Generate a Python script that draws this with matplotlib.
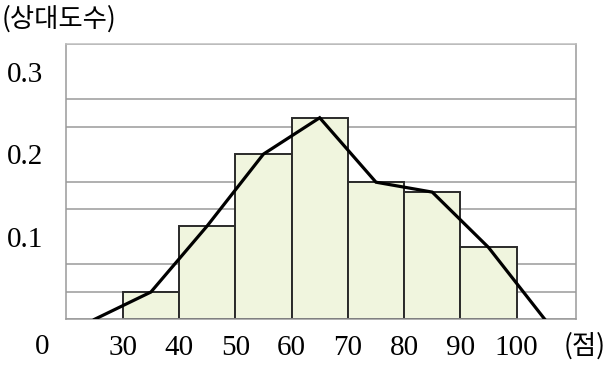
import matplotlib
matplotlib.use("Agg")
import matplotlib.pyplot as plt
from matplotlib.ticker import MultipleLocator

# class boundaries (score) and relative frequencies
class_lefts = [30, 40, 50, 60, 70, 80, 90]
rel_freq = [0.033, 0.113, 0.200, 0.244, 0.166, 0.154, 0.087]

# frequency polygon: class midpoints incl. empty classes at both ends
poly_x = [25, 35, 45, 55, 65, 75, 85, 95, 105]
poly_y = [0, 0.033, 0.113, 0.200, 0.244, 0.166, 0.154, 0.087, 0]

x_ticks = [30, 40, 50, 60, 70, 80, 90, 100]
y_ticks = [0.1, 0.2, 0.3]
y_tick_labels = ["0.1", "0.2", "0.3"]

num_font = "Liberation Serif"
kr_font = ["Noto Sans CJK KR", "DejaVu Sans"]

fig = plt.figure(figsize=(6.11, 3.65), dpi=100)
ax = fig.add_axes([0.1088, 0.1252, 0.8344, 0.7543])

ax.bar(class_lefts, rel_freq, width=10, align="edge", color="#f0f5de",
       edgecolor="#2a2a2a", linewidth=1.4, zorder=2)
ax.plot(poly_x, poly_y, color="black", linewidth=2.3, zorder=3,
        solid_joinstyle="miter")

ax.set_xlim(20, 110.6)
ax.set_ylim(0, 1 / 3)

# horizontal grid every 1/30
ax.yaxis.set_minor_locator(MultipleLocator(1 / 30))
ax.grid(True, axis="y", which="minor", color="#9a9a9a", linewidth=1.1, zorder=1)
ax.set_axisbelow(True)

ax.set_yticks(y_ticks)
ax.set_yticklabels(y_tick_labels, fontfamily=num_font, fontsize=21)
ax.set_xticks(x_ticks)
ax.set_xticklabels([str(t) for t in x_ticks], fontfamily=num_font, fontsize=21)
ax.tick_params(axis="both", which="both", length=0)
ax.tick_params(axis="y", pad=17)
ax.tick_params(axis="x", pad=11)

for side in ["left", "right", "bottom", "top"]:
    ax.spines[side].set_color("#9a9a9a")
    ax.spines[side].set_linewidth(1.1)
ax.spines["top"].set_color("#c0c0c0")

# origin label, unit labels
fig.text(42.5 / 611, 1 - 347 / 365, "0", fontfamily=num_font, fontsize=21,
         ha="center", va="center")
fig.text(585 / 611, 1 - 346 / 365, "(점)", fontfamily=kr_font, fontsize=19,
         ha="center", va="center")
fig.text(2 / 611, 1 - 19 / 365, "(상대도수)", fontfamily=kr_font, fontsize=19,
         ha="left", va="center")

fig.savefig("out.png", dpi=100)
